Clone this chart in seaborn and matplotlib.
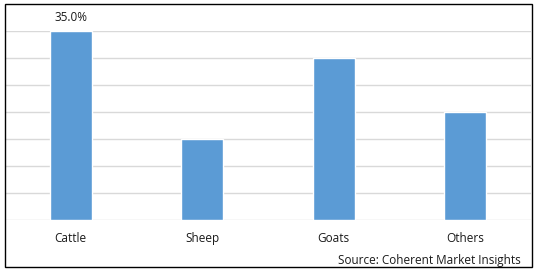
import matplotlib
matplotlib.use("Agg")
import matplotlib.pyplot as plt
import seaborn as sns
from matplotlib.patches import Rectangle

categories = ["Cattle", "Sheep", "Goats", "Others"]
values = [35.0, 15.0, 30.0, 20.0]
shown_labels = ["35.0%", "", "", ""]
source_text = "Source: Coherent Market Insights"

sns.set_theme(style="white")
plt.rcParams["font.family"] = ["Open Sans", "DejaVu Sans"]

W, H = 538, 272
fig = plt.figure(figsize=(W / 100, H / 100), dpi=100)
ax = fig.add_axes([5 / W, (H - 220) / H, (531 - 5) / W, (220 - 31) / H])

sns.barplot(x=categories, y=values, color="#5B9BD5", saturation=1, width=0.32, ax=ax)
ax.set_ylim(0, 35)
ax.set_xlim(-0.5, 3.5)
ax.set_yticks([0, 5, 10, 15, 20, 25, 30, 35])
ax.yaxis.grid(True, color="#D9D9D9", linewidth=1.0)
ax.set_axisbelow(True)
ax.set_yticklabels([])
for s in ax.spines.values():
    s.set_visible(False)
ax.tick_params(axis="both", length=0)
ax.tick_params(axis="x", pad=15.5, labelsize=8.5, labelcolor="#1a1a1a")
for lab in ax.get_xticklabels():
    lab.set_verticalalignment("baseline")
ax.set_xlabel("")
ax.set_ylabel("")

ax.bar_label(ax.containers[0], labels=shown_labels, padding=5, fontsize=8.5, color="#1a1a1a")

fig.text(521 / W, (H - 264) / H, source_text, ha="right", va="baseline", fontsize=8.5, color="#1a1a1a")

fig.patches.append(Rectangle((5 / W, (H - 267) / H), (532 - 5) / W, (267 - 4) / H,
                             transform=fig.transFigure, fill=False, edgecolor="black",
                             linewidth=1.0, figure=fig))

fig.savefig("out.png", dpi=100)
